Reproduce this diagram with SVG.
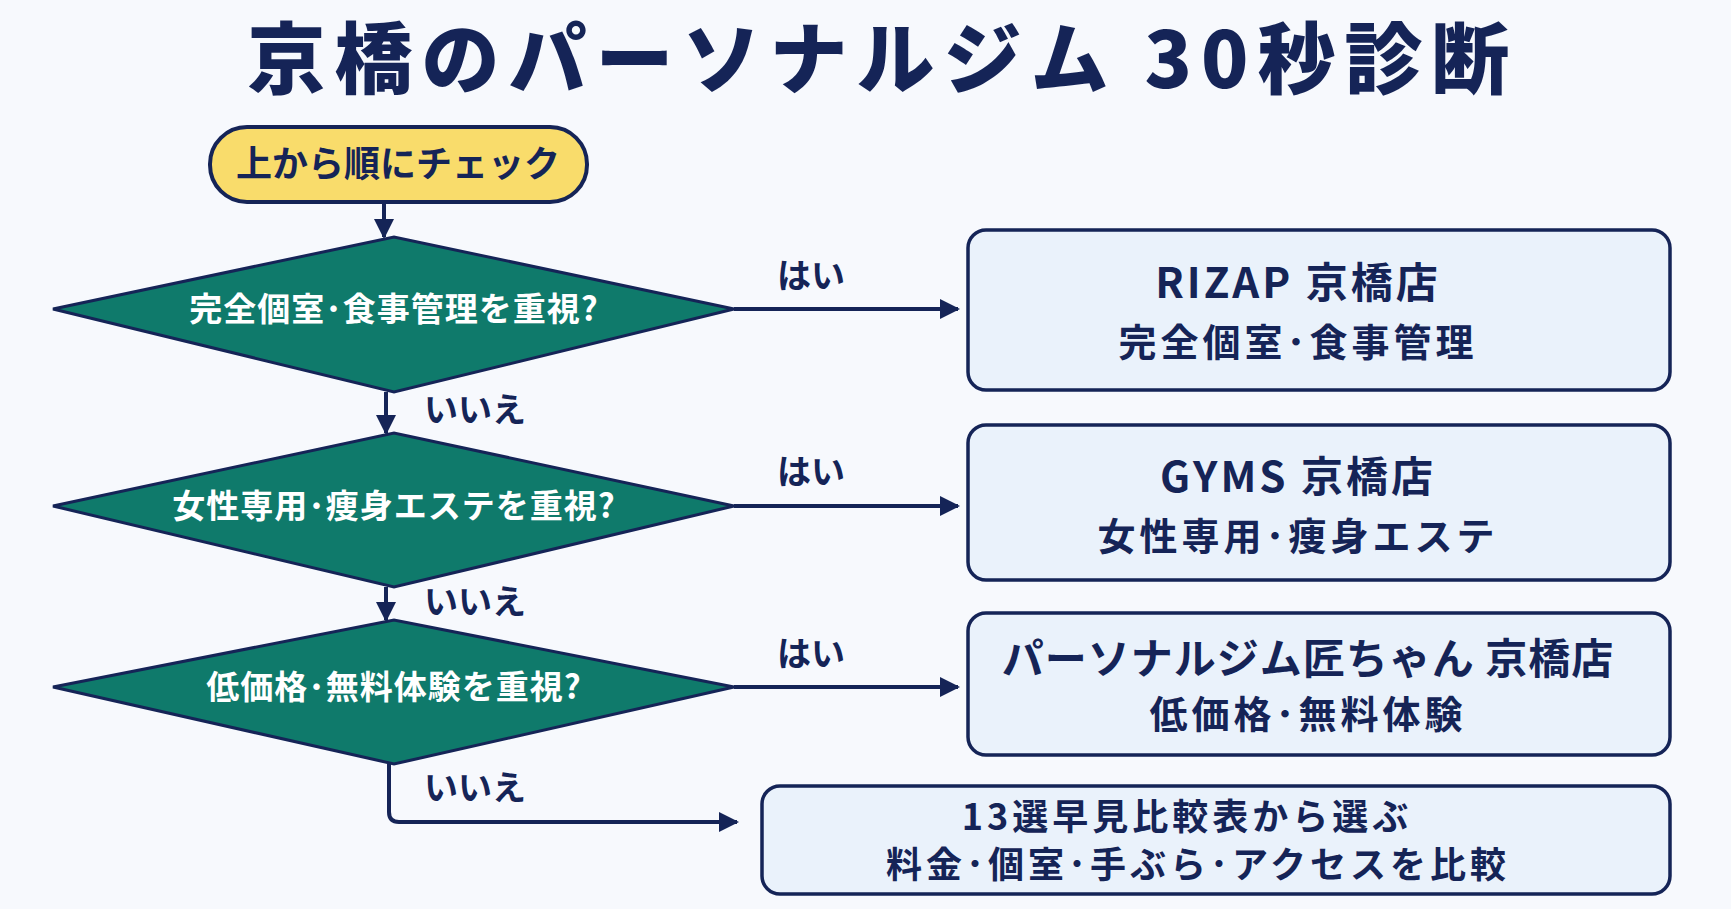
<svg xmlns="http://www.w3.org/2000/svg" width="1731" height="909" viewBox="0 0 1731 909">
<defs>
<marker id="ah" viewBox="0 0 10 10" refX="9" refY="5" markerWidth="5" markerHeight="5" orient="auto" markerUnits="strokeWidth"><path d="M0,0 L10,5 L0,10 z" fill="#152457"/></marker>
<style>
text{font-family:"Noto Sans CJK JP","Noto Sans",sans-serif;font-weight:700;fill:#152457;text-anchor:middle}
.d{fill:#0f7a6b;stroke:#152457;stroke-width:3}
.dt{fill:#fff;font-size:33px;letter-spacing:1px}
.b{fill:#eaf2fb;stroke:#152457;stroke-width:3.5}
.bt{font-size:42px;letter-spacing:3px}
.bs{font-size:38px;letter-spacing:4px}
.l{font-size:34px}
.c{fill:none;stroke:#152457;stroke-width:4;marker-end:url(#ah)}
</style>
</defs>
<rect width="1731" height="909" fill="#f7f9fd"/>
<text x="883" y="88" style="font-size:78px;font-weight:900;letter-spacing:9px">京橋のパーソナルジム 30秒診断</text>
<g id="start"><rect x="210" y="127" width="377" height="75" rx="37" fill="#f9dc6b" stroke="#152457" stroke-width="4"/><text x="398" y="177" style="font-size:36px">上から順にチェック</text></g>
<g id="q1"><polygon class="d" points="53,309 394,237 734,309 394,392"/><text class="dt" x="394" y="321">完全個室･食事管理を重視?</text></g>
<g id="q2"><polygon class="d" points="53,506 394,433 734,506 394,587"/><text class="dt" x="394" y="518">女性専用･痩身エステを重視?</text></g>
<g id="q3"><polygon class="d" points="53,687 394,620 734,687 394,764"/><text class="dt" x="394" y="699">低価格･無料体験を重視?</text></g>
<g id="r1"><rect class="b" x="968" y="230" width="702" height="160" rx="18"/><text class="bt" x="1298" y="298">RIZAP 京橋店</text><text class="bs" x="1298" y="356">完全個室･食事管理</text></g>
<g id="r2"><rect class="b" x="968" y="425" width="702" height="155" rx="18"/><text class="bt" x="1298" y="492">GYMS 京橋店</text><text class="bs" x="1298" y="550">女性専用･痩身エステ</text></g>
<g id="r3"><rect class="b" x="968" y="613" width="702" height="142" rx="18"/><text class="bt" x="1308" y="674" style="letter-spacing:1px">パーソナルジム匠ちゃん 京橋店</text><text class="bs" x="1308" y="728">低価格･無料体験</text></g>
<g id="r4"><rect class="b" x="762" y="786" width="908" height="108" rx="18"/><text class="bs" x="1187" y="830" style="font-size:36px">13選早見比較表から選ぶ</text><text class="bs" x="1198" y="878" style="font-size:36px">料金･個室･手ぶら･アクセスを比較</text></g>
<g id="connectors">
<path class="c" d="M384,202 V237"/>
<path class="c" d="M386,392 V433"/>
<path class="c" d="M386,587 V620"/>
<path class="c" d="M734,309 H958"/>
<path class="c" d="M734,506 H958"/>
<path class="c" d="M734,687 H958"/>
<path class="c" d="M389,764 V812 Q389,822 399,822 H737"/>
<text class="l" x="811" y="288">はい</text>
<text class="l" x="811" y="484">はい</text>
<text class="l" x="811" y="666">はい</text>
<text class="l" x="475" y="422">いいえ</text>
<text class="l" x="475" y="614">いいえ</text>
<text class="l" x="475" y="800">いいえ</text>
</g>
</svg>
